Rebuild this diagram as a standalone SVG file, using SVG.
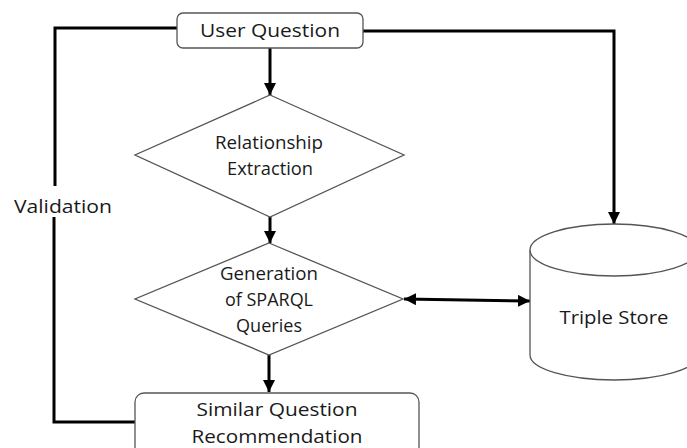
<svg xmlns="http://www.w3.org/2000/svg" width="687" height="448" viewBox="0 0 687 448">
<defs>
<style>
.shape{fill:#fff;stroke:#555;stroke-width:1.3}
.conn{fill:none;stroke:#000;stroke-width:3}
text{font-family:"Open Sans","Liberation Sans",sans-serif;font-size:18.5px;fill:#1a1a1a;text-anchor:middle}
</style>
<marker id="ah" viewBox="0 0 10 10" refX="10" refY="5" markerWidth="4" markerHeight="4" orient="auto-start-reverse" markerUnits="strokeWidth">
<path d="M0,0 L10,5 L0,10 z" fill="#000"/>
</marker>
</defs>
<rect width="687" height="448" fill="#fff"/>
<g id="connectors">
<path class="conn" d="M270,48 V95" marker-end="url(#ah)"/>
<path class="conn" d="M270,217 V243" marker-end="url(#ah)"/>
<path class="conn" d="M269,355 V392" marker-end="url(#ah)"/>
<path class="conn" d="M363,31 H614 V224" marker-end="url(#ah)"/>
<path class="conn" d="M404,299 L530,301" marker-start="url(#ah)" marker-end="url(#ah)"/>
<path class="conn" d="M177,28 H55 V186"/>
<path class="conn" d="M54,217 V422 H135"/>
<text id="validation" x="63" y="213" textLength="98" lengthAdjust="spacingAndGlyphs">Validation</text>
</g>
<g id="user-question">
<rect class="shape" x="177" y="13" width="186" height="35" rx="6"/>
<text x="270" y="37" textLength="140" lengthAdjust="spacingAndGlyphs">User Question</text>
</g>
<g id="relationship-extraction">
<polygon class="shape" points="270,95 404,155 270,217 135,155"/>
<text x="269" y="149" textLength="108" lengthAdjust="spacingAndGlyphs">Relationship</text>
<text x="270" y="175" textLength="86" lengthAdjust="spacingAndGlyphs">Extraction</text>
</g>
<g id="generation">
<polygon class="shape" points="269,243 403,299 269,355 135,299"/>
<text x="269" y="280" textLength="98" lengthAdjust="spacingAndGlyphs">Generation</text>
<text x="269" y="306" textLength="88" lengthAdjust="spacingAndGlyphs">of SPARQL</text>
<text x="269" y="332" textLength="66" lengthAdjust="spacingAndGlyphs">Queries</text>
</g>
<g id="triple-store">
<path class="shape" d="M530,250 V355 A84,25 0 0 0 698,355 V250"/>
<ellipse class="shape" cx="614" cy="250" rx="84" ry="26"/>
<text x="614" y="324" textLength="109" lengthAdjust="spacingAndGlyphs">Triple Store</text>
</g>
<g id="similar-question">
<rect class="shape" x="135" y="393" width="284" height="70" rx="9"/>
<text x="277" y="416" textLength="161" lengthAdjust="spacingAndGlyphs">Similar Question</text>
<text x="277" y="443" textLength="171" lengthAdjust="spacingAndGlyphs">Recommendation</text>
</g>
</svg>
